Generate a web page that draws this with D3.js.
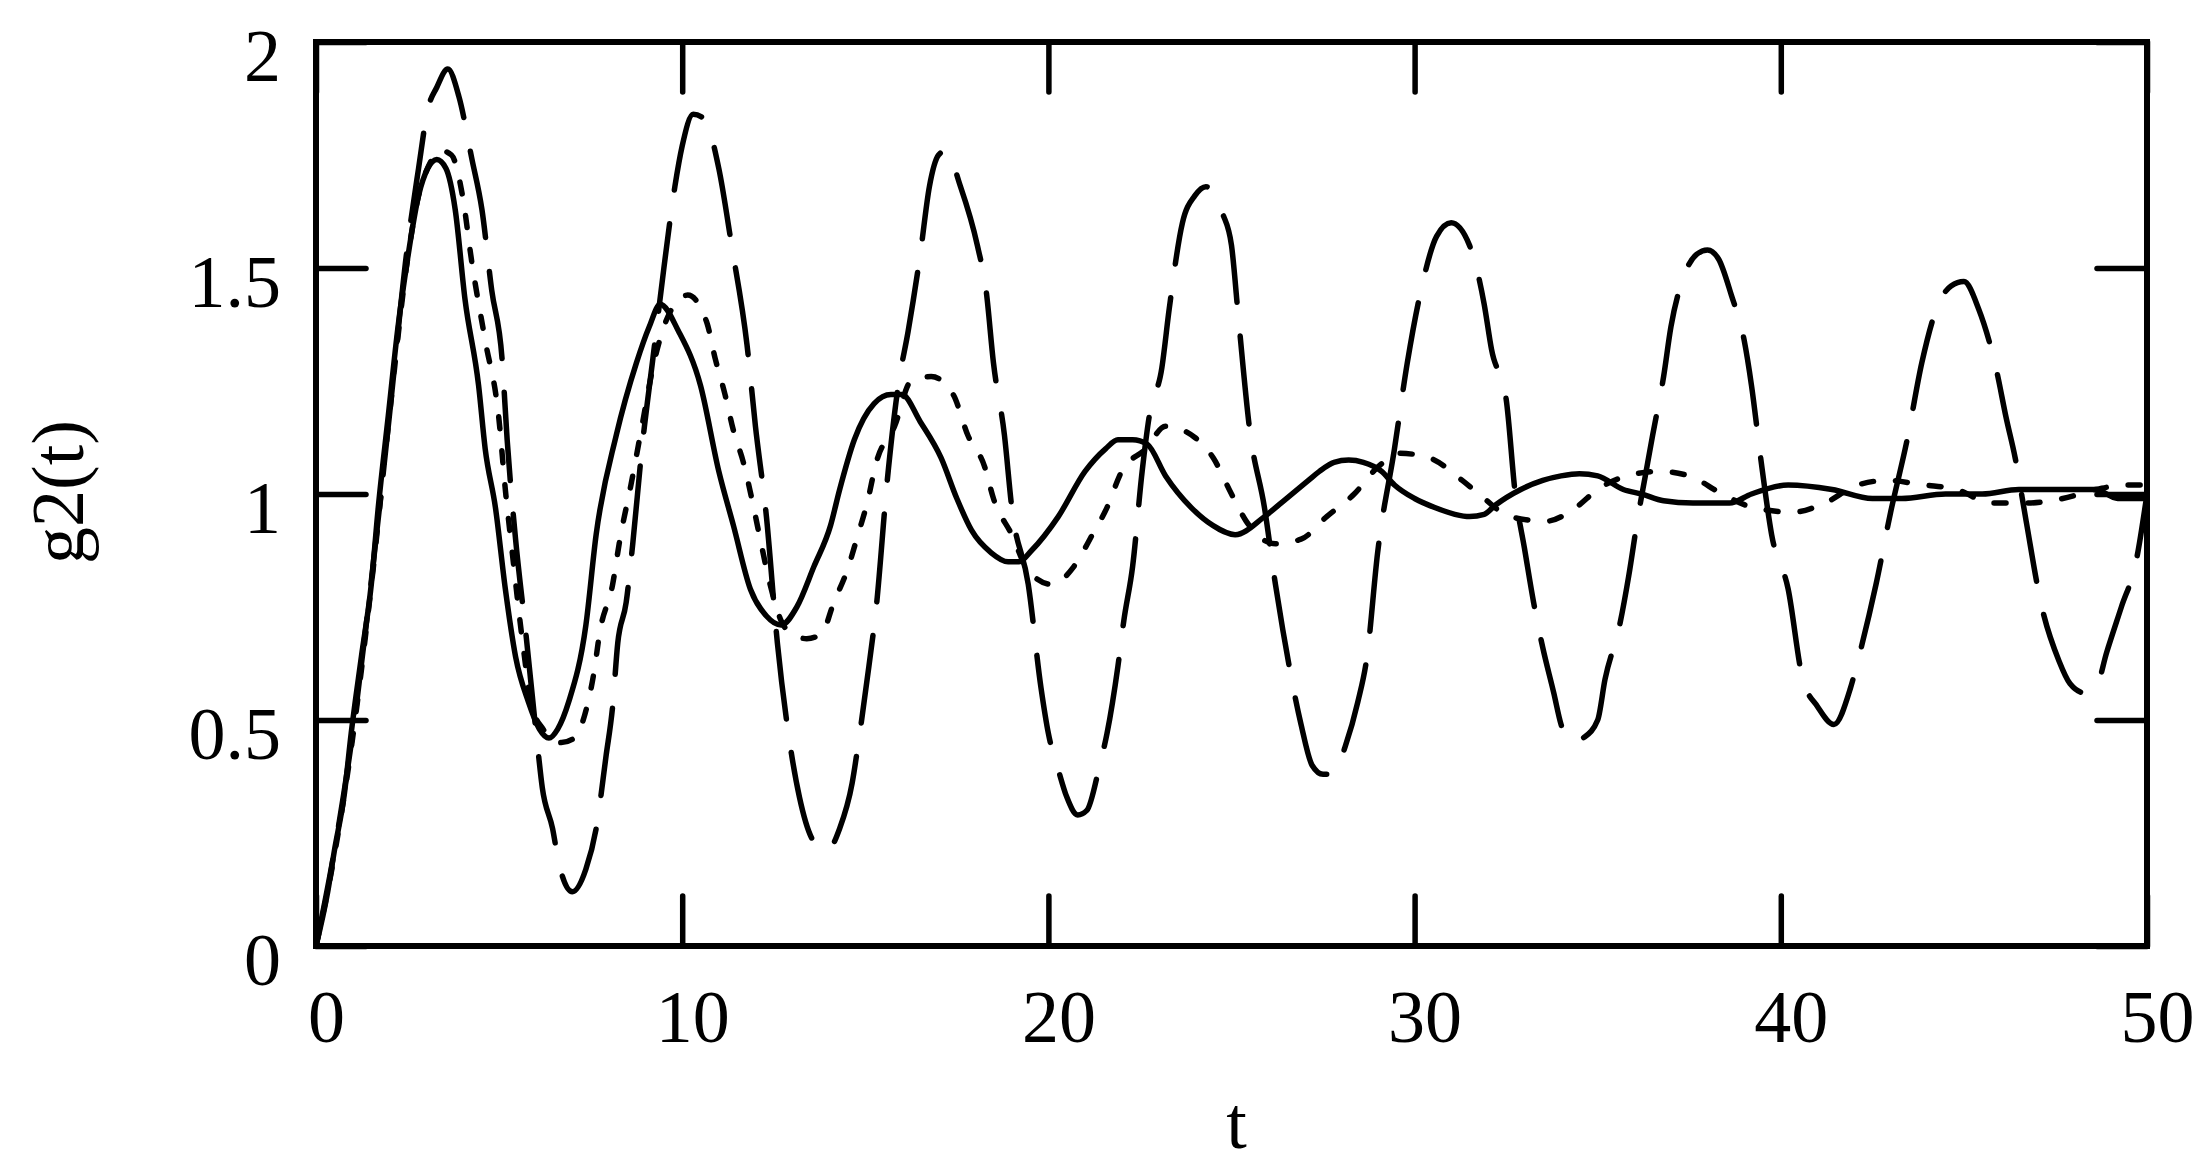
<!DOCTYPE html>
<html>
<head>
<meta charset="utf-8">
<script src="https://cdn.jsdelivr.net/npm/d3@7"></script>
<style>
  body { margin: 0; background: #fff; }
  text { font-family: "Liberation Serif", "Times New Roman", serif; }
</style>
</head>
<body>
<script>
var width = 2205;
var height = 1171;

// tick values
var xTicks = [0, 10, 20, 30, 40, 50];
var yTicks = [0, 0.5, 1, 1.5, 2];
var yTickLabels = ["0", "0.5", "1", "1.5", "2"];

// [t, g2(t)]
var solid = [[0,0],[0.32,0.12],[0.5,0.21],[0.78,0.34],[0.96,0.47],[1.24,0.64],[1.51,0.8],[1.7,0.97],[1.97,1.17],[2.24,1.37],
  [2.5,1.52],[2.8,1.66],[3.05,1.72],[3.3,1.74],[3.55,1.72],[3.8,1.63],[4.07,1.43],[4.44,1.24],[4.62,1.1],[4.9,0.97],
  [5.17,0.79],[5.45,0.64],[5.8,0.54],[6.1,0.48],[6.36,0.46],[6.6,0.48],[6.9,0.54],[7.37,0.71],[7.65,0.91],[8.2,1.13],
  [8.75,1.29],[9.1,1.37],[9.4,1.42],[9.9,1.36],[10.5,1.24],[11,1.05],[11.4,0.93],[11.86,0.79],[12.3,0.73],[12.7,0.71],
  [13.13,0.75],[13.6,0.84],[14.05,0.93],[14.3,1.01],[14.7,1.12],[15.24,1.2],[15.7,1.22],[16,1.22],[16.5,1.16],[17.07,1.08],
  [17.5,0.99],[17.9,0.92],[18.44,0.87],[18.9,0.85],[19.2,0.85],[19.54,0.875],[20.27,0.95],[21,1.05],[21.56,1.1],[21.9,1.12],
  [22.3,1.12],[22.7,1.11],[23.2,1.04],[23.9,0.97],[24.5,0.93],[25.1,0.91],[25.9,0.95],[26.5,0.99],[27.1,1.03],[27.4,1.05],
  [27.8,1.07],[28.2,1.075],[28.6,1.07],[29.1,1.05],[29.45,1.02],[30,0.99],[30.55,0.97],[31.1,0.955],[31.5,0.95],[31.9,0.955],
  [32.2,0.975],[32.9,1.01],[33.5,1.03],[34,1.04],[34.5,1.045],[35,1.04],[35.7,1.01],[36.2,1],[36.8,0.985],[37.6,0.98],
  [38.6,0.98],[39.2,1],[40.2,1.02],[41.4,1.01],[42.5,0.99],[43.3,0.99],[44.5,1],[45.5,1],[46.5,1.01],[47.5,1.01],
  [48.6,1.01],[49.2,0.99],[50,0.99]];

var dotted = [[0,0],[0.5,0.2],[1,0.46],[1.5,0.79],[2,1.17],[2.5,1.52],[2.8,1.66],[3.1,1.73],[3.4,1.76],[3.7,1.75],
  [4,1.66],[4.26,1.51],[4.62,1.34],[4.99,1.17],[5.17,1.01],[5.36,0.87],[5.63,0.68],[5.9,0.53],[6.2,0.48],[6.7,0.45],
  [7.05,0.46],[7.4,0.53],[7.6,0.61],[7.74,0.69],[8.1,0.8],[8.3,0.9],[8.6,1.02],[8.9,1.15],[9.2,1.28],[9.5,1.37],
  [9.8,1.42],[10.15,1.44],[10.67,1.38],[10.9,1.3],[11.17,1.22],[11.4,1.14],[11.67,1.07],[11.9,0.99],[12.13,0.9],[12.4,0.8],
  [12.7,0.72],[13,0.69],[13.4,0.68],[13.8,0.69],[14.14,0.76],[14.5,0.83],[14.8,0.91],[15.05,0.98],[15.3,1.07],[15.8,1.15],
  [16.25,1.25],[16.8,1.26],[17.4,1.22],[17.8,1.13],[18.26,1.06],[18.5,0.99],[19,0.91],[19.45,0.83],[20.1,0.8],[20.7,0.84],
  [21.2,0.91],[21.6,0.97],[22,1.05],[22.66,1.1],[23.2,1.15],[24,1.125],[24.5,1.08],[25,1],[25.4,0.94],[26.2,0.89],
  [26.9,0.9],[27.6,0.95],[28.35,1],[29,1.06],[29.6,1.09],[30.4,1.08],[31.3,1.03],[31.9,0.99],[32.6,0.95],[33.6,0.94],
  [34.4,0.97],[35,1.01],[35.8,1.04],[36.7,1.05],[37.5,1.04],[38.4,1],[39.25,0.97],[40.35,0.96],[41.2,0.98],[42.1,1.02],
  [42.9,1.03],[43.9,1.02],[44.8,1.01],[45.75,0.98],[46.75,0.98],[47.7,0.99],[48.6,1.01],[49.5,1.02],[50,1.02]];

var dashed = [[0,0],[0.5,0.21],[1,0.47],[1.5,0.8],[2,1.17],[2.5,1.55],[2.8,1.72],[3.05,1.85],[3.3,1.9],[3.6,1.94],
  [3.9,1.88],[4.26,1.74],[4.53,1.63],[4.8,1.45],[5.08,1.3],[5.22,1.12],[5.45,0.9],[5.72,0.7],[6.04,0.45],[6.18,0.35],
  [6.46,0.26],[6.64,0.18],[7,0.12],[7.37,0.17],[7.65,0.26],[7.92,0.42],[8.1,0.53],[8.24,0.67],[8.47,0.76],[8.65,0.89],
  [8.9,1.1],[9.2,1.3],[9.5,1.5],[9.8,1.68],[10,1.77],[10.3,1.84],[10.6,1.83],[11,1.72],[11.35,1.55],[11.77,1.33],
  [12,1.15],[12.3,0.95],[12.6,0.67],[12.9,0.47],[13.2,0.33],[13.6,0.23],[13.95,0.21],[14.3,0.26],[14.64,0.36],[14.83,0.46],
  [15.1,0.62],[15.3,0.75],[15.6,1.03],[15.9,1.24],[16.17,1.36],[16.5,1.53],[16.75,1.68],[17,1.75],[17.2,1.76],[17.6,1.68],
  [18.06,1.55],[18.3,1.45],[18.5,1.29],[18.8,1.13],[19,0.97],[19.45,0.8],[19.8,0.57],[20,0.47],[20.27,0.39],[20.5,0.33],
  [20.8,0.29],[21.05,0.3],[21.4,0.4],[21.6,0.47],[21.9,0.62],[22.06,0.72],[22.3,0.84],[22.56,1.05],[22.75,1.17],[23.1,1.28],
  [23.3,1.41],[23.66,1.6],[24,1.66],[24.3,1.68],[24.76,1.62],[25,1.55],[25.2,1.38],[25.5,1.14],[25.9,0.97],[26.2,0.8],
  [26.4,0.7],[26.9,0.49],[27.2,0.4],[27.5,0.38],[27.8,0.38],[28.1,0.44],[28.45,0.54],[28.7,0.64],[28.99,0.87],[29.45,1.1],
  [29.8,1.29],[30.2,1.46],[30.6,1.57],[31,1.6],[31.5,1.55],[31.9,1.42],[32.1,1.32],[32.5,1.21],[32.75,1],[33,0.88],
  [33.25,0.76],[33.5,0.66],[33.8,0.56],[34,0.49],[34.3,0.45],[34.6,0.46],[35,0.5],[35.2,0.59],[35.6,0.71],[35.85,0.82],
  [36.1,0.95],[36.3,1.04],[36.5,1.13],[36.8,1.26],[37,1.37],[37.3,1.47],[37.7,1.53],[38,1.54],[38.3,1.52],[38.65,1.44],
  [39,1.34],[39.2,1.24],[39.45,1.08],[39.75,0.91],[40.2,0.79],[40.6,0.59],[41,0.53],[41.45,0.49],[41.9,0.57],[42.1,0.63],
  [42.6,0.8],[43,0.96],[43.45,1.12],[43.85,1.29],[44.3,1.42],[44.65,1.46],[45,1.47],[45.4,1.41],[45.9,1.27],[46.15,1.17],
  [46.4,1.08],[46.7,0.94],[47.1,0.76],[47.6,0.63],[47.9,0.58],[48.3,0.56],[48.6,0.57],[48.9,0.65],[49.3,0.75],[49.7,0.85],
  [50,1]];

var plotLeft = 316, plotRight = 2147, plotTop = 42, plotBottom = 946;

var svg = d3.select("body")
            .append("svg")
            .attr("width", width)
            .attr("height", height);

svg.append("rect")
   .attr("width", width)
   .attr("height", height)
   .attr("fill", "#fff");

var x = d3.scaleLinear().domain([0, 50]).range([plotLeft, plotRight]);
var y = d3.scaleLinear().domain([0, 2]).range([plotBottom, plotTop]);

var line = d3.line()
             .x(function(d) { return x(d[0]); })
             .y(function(d) { return y(d[1]); })
             .curve(d3.curveMonotoneX);

//////////////////////////// curves ////////////////////////////
var series = [
  {data: dashed, dash: "88 34"},
  {data: dotted, dash: "12 22"},
  {data: solid,  dash: null}
];

svg.selectAll("path.curve")
   .data(series)
   .enter()
   .append("path")
   .attr("class", "curve")
   .attr("d", function(d) { return line(d.data); })
   .attr("fill", "none")
   .attr("stroke", "#000")
   .attr("stroke-width", 5.5)
   .attr("stroke-linecap", "round")
   .attr("stroke-linejoin", "round")
   .attr("stroke-dasharray", function(d) { return d.dash; });

//////////////////////////// axes (ticks point inward) ////////////////////////////
var tickLen = 50;

function styleAxis(g) {
  g.select(".domain").remove();
  g.selectAll(".tick line")
   .attr("stroke", "#000")
   .attr("stroke-width", 5.5)
   .attr("stroke-linecap", "round");
}

var bottomAxis = svg.append("g")
   .attr("transform", "translate(0," + plotBottom + ")")
   .call(d3.axisBottom(x).tickValues(xTicks).tickSizeInner(-tickLen).tickSizeOuter(0))
   .call(styleAxis);

bottomAxis.selectAll(".tick text")
   .attr("y", 0)
   .attr("x", 10)
   .attr("dy", 96)
   .attr("fill", "#000")
   .style("font-size", "74px")
   .style("font-family", "'Liberation Serif', 'Times New Roman', serif");

var leftAxis = svg.append("g")
   .attr("transform", "translate(" + plotLeft + ",0)")
   .call(d3.axisLeft(y).tickValues(yTicks).tickSizeInner(-tickLen).tickSizeOuter(0)
          .tickFormat(function(d, i) { return yTickLabels[i]; }))
   .call(styleAxis);

leftAxis.selectAll(".tick text")
   .attr("x", -35)
   .attr("dy", 38)
   .attr("fill", "#000")
   .style("font-size", "74px")
   .style("font-family", "'Liberation Serif', 'Times New Roman', serif");

svg.append("g")
   .attr("transform", "translate(0," + plotTop + ")")
   .call(d3.axisTop(x).tickValues(xTicks).tickSizeInner(-tickLen).tickSizeOuter(0).tickFormat(""))
   .call(styleAxis);

svg.append("g")
   .attr("transform", "translate(" + plotRight + ",0)")
   .call(d3.axisRight(y).tickValues(yTicks).tickSizeInner(-tickLen).tickSizeOuter(0).tickFormat(""))
   .call(styleAxis);

// frame
svg.append("rect")
   .attr("x", plotLeft)
   .attr("y", plotTop)
   .attr("width", plotRight - plotLeft)
   .attr("height", plotBottom - plotTop)
   .attr("fill", "none")
   .attr("stroke", "#000")
   .attr("stroke-width", 6);

//////////////////////////// axis titles ////////////////////////////
svg.append("text")
   .attr("x", (plotLeft + plotRight) / 2 + 5)
   .attr("y", 1148)
   .attr("text-anchor", "middle")
   .style("font-size", "74px")
   .text("t");

svg.append("text")
   .attr("transform", "translate(83,492) rotate(-90)")
   .attr("text-anchor", "middle")
   .style("font-size", "74px")
   .text("g2(t)");
</script>
</body>
</html>
